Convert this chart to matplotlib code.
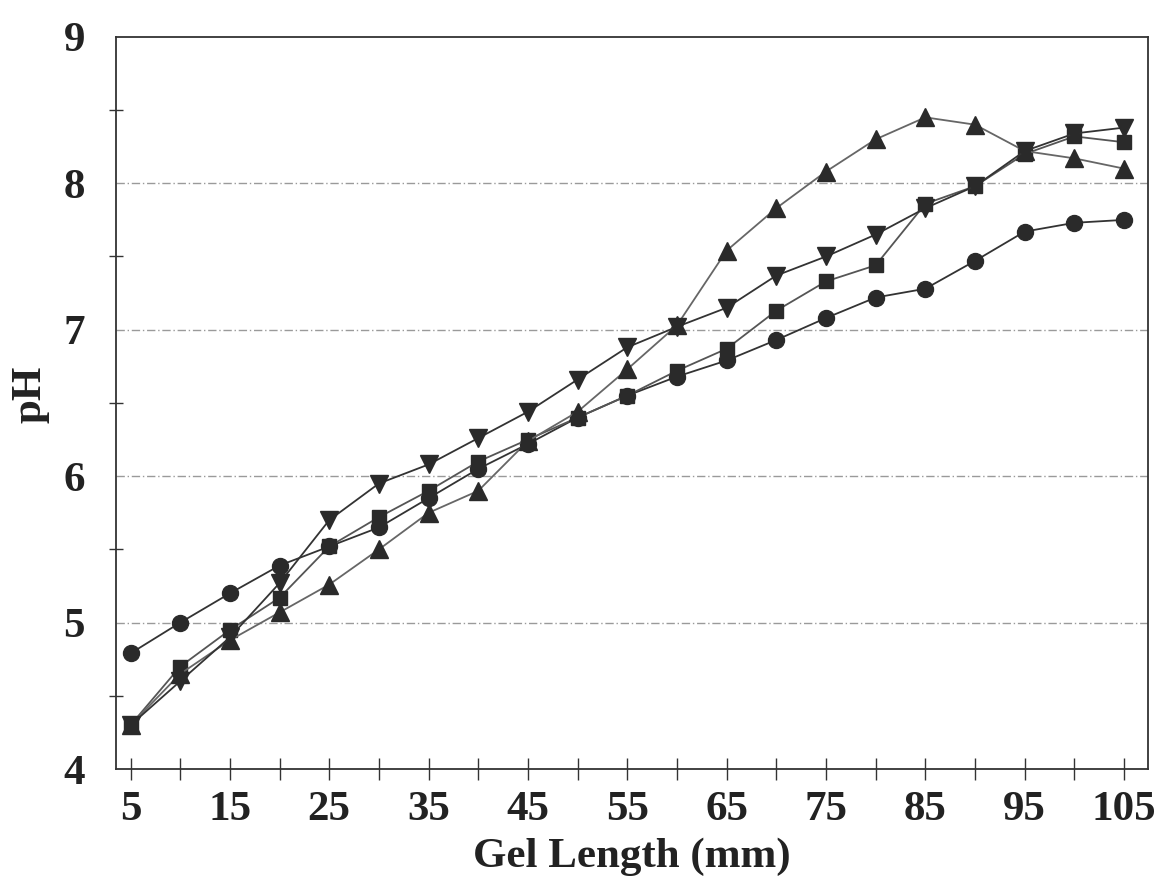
import matplotlib.pyplot as plt
from matplotlib.ticker import MultipleLocator, FixedLocator

# gel length along the gel (mm)
gel_length = [5, 10, 15, 20, 25, 30, 35, 40, 45, 50, 55,
              60, 65, 70, 75, 80, 85, 90, 95, 100, 105]

# pH profiles, one per run
ph_circle = [4.79, 5.00, 5.20, 5.39, 5.52, 5.65, 5.85, 6.05, 6.22, 6.40, 6.55,
             6.68, 6.79, 6.93, 7.08, 7.22, 7.28, 7.47, 7.67, 7.73, 7.75]
ph_square = [4.30, 4.70, 4.95, 5.17, 5.52, 5.72, 5.90, 6.10, 6.25, 6.40, 6.55,
             6.72, 6.87, 7.13, 7.33, 7.44, 7.86, 7.98, 8.20, 8.32, 8.28]
ph_tri_up = [4.30, 4.65, 4.88, 5.07, 5.26, 5.50, 5.75, 5.90, 6.24, 6.44, 6.73,
             7.03, 7.54, 7.83, 8.08, 8.30, 8.45, 8.40, 8.22, 8.17, 8.10]
ph_tri_down = [4.30, 4.60, 4.90, 5.27, 5.70, 5.95, 6.08, 6.26, 6.44, 6.66, 6.88,
               7.02, 7.15, 7.37, 7.50, 7.65, 7.83, 7.98, 8.22, 8.34, 8.38]

x_labels = [5, 15, 25, 35, 45, 55, 65, 75, 85, 95, 105]

plt.rcParams['font.family'] = ['Liberation Serif', 'DejaVu Serif']
plt.rcParams['font.weight'] = 'bold'

fig = plt.figure(figsize=(11.56, 8.76), dpi=100)
ax = fig.add_axes([0.100, 0.122, 0.893, 0.836])

ink = '#2a2a2a'
series = [
    (ph_circle, 'o', 11.5, '#333333'),
    (ph_square, 's', 10.5, '#555555'),
    (ph_tri_up, '^', 12.5, '#666666'),
    (ph_tri_down, 'v', 12.5, '#333333'),
]
for vals, mk, ms, lc in series:
    ax.plot(gel_length, vals, color=lc, lw=1.3, marker=mk, markersize=ms,
            markerfacecolor=ink, markeredgecolor=ink, zorder=3)

# horizontal reference lines at whole pH units
for yv in [5, 6, 7, 8]:
    ax.axhline(yv, color='#9a9a9a', lw=1.0, ls=(0, (6, 2, 1, 2)), zorder=1)

ax.set_xlim(3.5, 107.4)
ax.set_ylim(4, 9)

ax.xaxis.set_major_locator(FixedLocator(x_labels))
ax.xaxis.set_minor_locator(MultipleLocator(5))
ax.yaxis.set_major_locator(MultipleLocator(1))
ax.yaxis.set_minor_locator(MultipleLocator(0.5))

ax.tick_params(axis='both', which='both', direction='inout', color='#333333',
               width=1.0, labelsize=31)
ax.tick_params(axis='x', which='both', length=16, pad=8)
ax.tick_params(axis='y', which='major', length=0, pad=22)
ax.tick_params(axis='y', which='minor', length=10)

for lab in ax.get_xticklabels() + ax.get_yticklabels():
    lab.set_fontweight('bold')
    lab.set_color('#222222')

for sp in ax.spines.values():
    sp.set_color('#333333')
    sp.set_linewidth(1.3)

ax.set_xlabel('Gel Length (mm)', fontsize=31, fontweight='bold',
              color='#222222', labelpad=6)
ax.set_ylabel('pH', fontsize=31, fontweight='bold', color='#222222')
ax.yaxis.set_label_coords(-0.064, 0.512)

fig.savefig('out.png', dpi=100)
